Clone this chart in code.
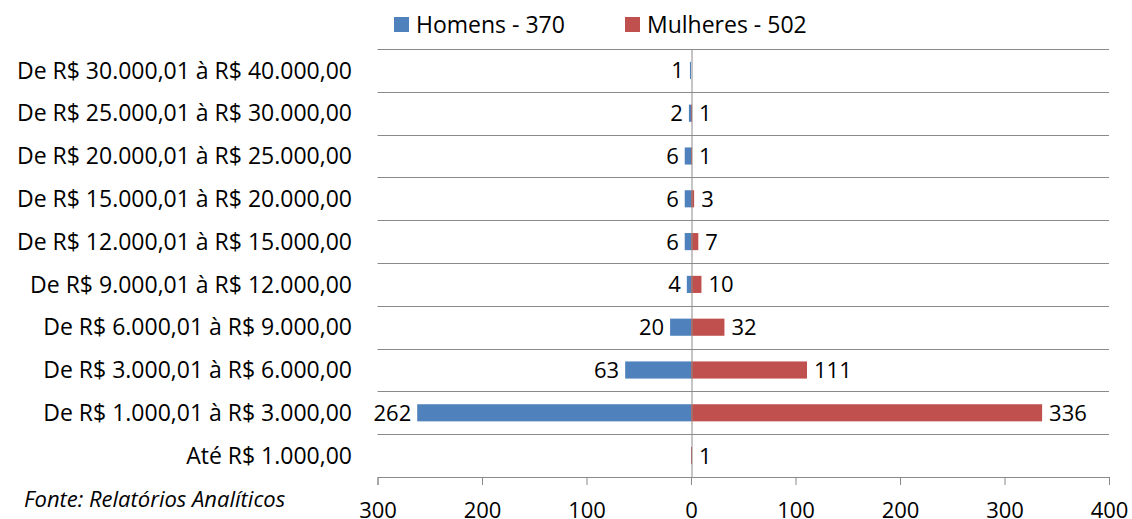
<!DOCTYPE html>
<html>
<head>
<meta charset="utf-8">
<script src="https://cdn.jsdelivr.net/npm/d3@7"></script>
<style>
  html, body { margin: 0; padding: 0; background: #fff; }
  svg { display: block; font-family: "Open Sans", Lato, sans-serif; }
</style>
</head>
<body>
<div id="wrapper"></div>
<script>
// Data, top row first
const categories = [
  "De R$ 30.000,01 à R$ 40.000,00",
  "De R$ 25.000,01 à R$ 30.000,00",
  "De R$ 20.000,01 à R$ 25.000,00",
  "De R$ 15.000,01 à R$ 20.000,00",
  "De R$ 12.000,01 à R$ 15.000,00",
  "De R$ 9.000,01 à R$ 12.000,00",
  "De R$ 6.000,01 à R$ 9.000,00",
  "De R$ 3.000,01 à R$ 6.000,00",
  "De R$ 1.000,01 à R$ 3.000,00",
  "Até R$ 1.000,00",
];
const homens = [1, 2, 6, 6, 6, 4, 20, 63, 262, 0];
const mulheres = [0, 1, 1, 3, 7, 10, 32, 111, 336, 1];
const tickValues = [-300, -200, -100, 0, 100, 200, 300, 400];
const legendLabels = ["Homens - 370", "Mulheres - 502"];
const sourceNote = "Fonte: Relatórios Analíticos";

const colors = { homens: "#4F81BD", mulheres: "#C0504D" };
const gridColor = "#8a8a8a";
const labelSize = 23;
const numberSize = 22;
const fontFamily = "'Open Sans', Lato, sans-serif";

const dimensions = {
  width: 1132,
  height: 519,
  margins: { top: 49, right: 23, bottom: 42, left: 377.5 },
};
dimensions.boundedWidth =
  dimensions.width - dimensions.margins.left - dimensions.margins.right;
dimensions.boundedHeight =
  dimensions.height - dimensions.margins.top - dimensions.margins.bottom;

const svg = d3
  .select("#wrapper")
  .append("svg")
  .attr("width", dimensions.width)
  .attr("height", dimensions.height);

const bounds = svg
  .append("g")
  .attr("transform", `translate(${dimensions.margins.left},${dimensions.margins.top})`);

// Scales
const xScale = d3
  .scaleLinear()
  .domain([-300, 400])
  .range([0, dimensions.boundedWidth]);

const yScale = d3
  .scaleBand()
  .domain(categories)
  .range([0, dimensions.boundedHeight]);

const step = yScale.step();
const barH = step * 0.4;
const barOffset = (step - barH) / 2;

// Gridlines (row boundaries)
const boundaries = d3.range(categories.length);
bounds
  .append("g")
  .selectAll("line")
  .data(boundaries)
  .join("line")
  .attr("x1", 0)
  .attr("x2", dimensions.boundedWidth)
  .attr("y1", (d) => Math.round(d * step) + 0.5)
  .attr("y2", (d) => Math.round(d * step) + 0.5)
  .attr("stroke", gridColor)
  .attr("stroke-width", 1);

// Rows
const rows = categories.map((c, i) => ({ cat: c, h: homens[i], m: mulheres[i] }));

bounds
  .append("g")
  .selectAll("rect")
  .data(rows.filter((d) => d.h > 0))
  .join("rect")
  .attr("x", (d) => xScale(-d.h))
  .attr("y", (d) => yScale(d.cat) + barOffset)
  .attr("width", (d) => xScale(0) - xScale(-d.h))
  .attr("height", barH)
  .attr("fill", colors.homens);

bounds
  .append("g")
  .selectAll("rect")
  .data(rows.filter((d) => d.m > 0))
  .join("rect")
  .attr("x", xScale(0))
  .attr("y", (d) => yScale(d.cat) + barOffset)
  .attr("width", (d) => xScale(d.m) - xScale(0))
  .attr("height", barH)
  .attr("fill", colors.mulheres);

// Zero line
bounds
  .append("line")
  .attr("x1", Math.round(xScale(0)) + 0.5)
  .attr("x2", Math.round(xScale(0)) + 0.5)
  .attr("y1", 0)
  .attr("y2", dimensions.boundedHeight)
  .attr("stroke", gridColor);

// Value labels
const numShift = numberSize * 0.36;
bounds
  .append("g")
  .selectAll("text")
  .data(rows.filter((d) => d.h > 0))
  .join("text")
  .attr("x", (d) => xScale(-d.h) - 6)
  .attr("y", (d) => yScale(d.cat) + step / 2 + numShift)
  .attr("text-anchor", "end")
  .style("font-size", `${numberSize}px`)
  .text((d) => d.h);

bounds
  .append("g")
  .selectAll("text")
  .data(rows.filter((d) => d.m > 0))
  .join("text")
  .attr("x", (d) => xScale(d.m) + 7)
  .attr("y", (d) => yScale(d.cat) + step / 2 + numShift)
  .attr("text-anchor", "start")
  .style("font-size", `${numberSize}px`)
  .text((d) => d.m);

// Category labels
const labelShift = labelSize * 0.36;
bounds
  .append("g")
  .selectAll("text")
  .data(categories)
  .join("text")
  .attr("x", 352 - dimensions.margins.left)
  .attr("y", (d) => yScale(d) + step / 2 + labelShift)
  .attr("text-anchor", "end")
  .style("font-size", `${labelSize}px`)
  .text((d) => d);

// X axis
const xAxisGenerator = d3
  .axisBottom(xScale)
  .tickValues(tickValues)
  .tickFormat((d) => Math.abs(d))
  .tickSize(8)
  .tickPadding(17);

const xAxis = bounds
  .append("g")
  .attr("transform", `translate(0,${dimensions.boundedHeight})`)
  .call(xAxisGenerator);

xAxis.select(".domain").attr("stroke", gridColor);
xAxis.selectAll(".tick line").attr("stroke", gridColor);
xAxis
  .selectAll(".tick text")
  .attr("fill", "#000")
  .style("font-size", `${numberSize}px`)
  .style("font-family", fontFamily);

// Legend
const legend = svg.append("g");
const legendX = [394, 625];
const legendColors = [colors.homens, colors.mulheres];
legendLabels.forEach((label, i) => {
  legend
    .append("rect")
    .attr("x", legendX[i])
    .attr("y", 17)
    .attr("width", 15)
    .attr("height", 15)
    .attr("fill", legendColors[i]);
  legend
    .append("text")
    .attr("x", legendX[i] + 22)
    .attr("y", 24.5 + labelShift)
    .style("font-size", `${labelSize}px`)
    .text(label);
});

// Source note
svg
  .append("text")
  .attr("x", 24)
  .attr("y", 507)
  .style("font-size", "22px")
  .style("font-style", "italic")
  .text(sourceNote);
</script>
</body>
</html>
